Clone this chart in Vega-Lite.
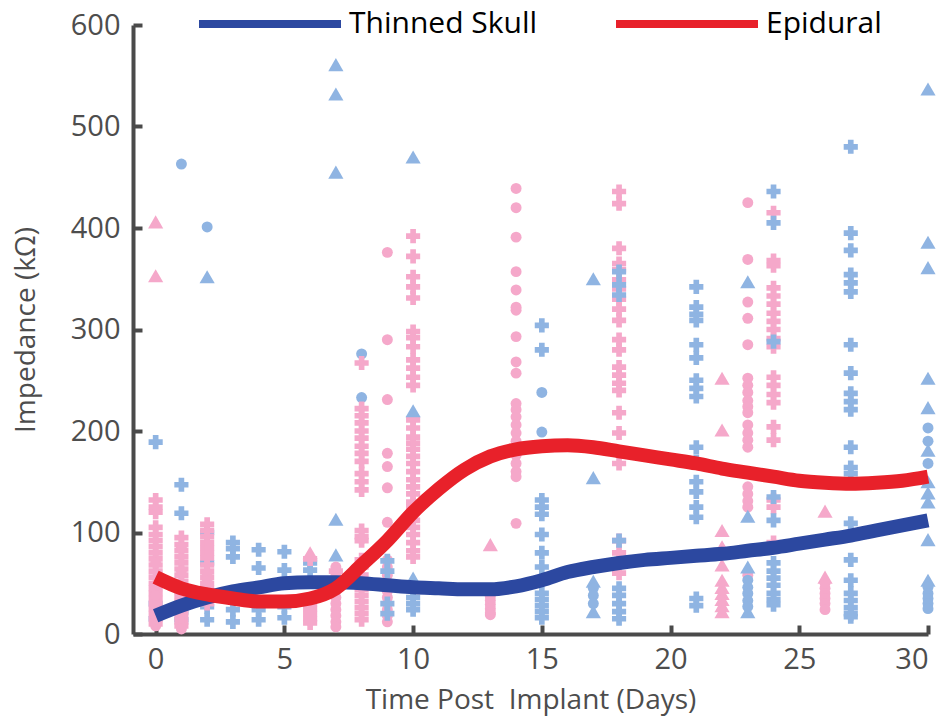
{
  "$schema": "https://vega.github.io/schema/vega-lite/v6.json",
  "autosize": "none",
  "width": 795,
  "height": 609,
  "padding": {"left": 133, "top": 25, "right": 22, "bottom": 90},
  "config": {
    "view": {"stroke": null},
    "font": "Open Sans",
    "axis": {
      "grid": false,
      "domainColor": "#4a4a4a",
      "domainWidth": 4,
      "tickColor": "#4a4a4a",
      "tickWidth": 4,
      "tickSize": -9,
      "labelFontSize": 29,
      "labelColor": "#4d4d4d",
      "titleFontSize": 28,
      "titleFontWeight": "normal",
      "titleColor": "#4d4d4d"
    }
  },
  "datasets": {
    "pts": [
      {"d":0,"v":189,"g":"T","s":"cross"},{"d":0,"v":15,"g":"T","s":"cross"},{"d":0,"v":22,"g":"T","s":"circle"},{"d":0,"v":30,"g":"T","s":"cross"},
      {"d":0,"v":406,"g":"E","s":"triangle"},{"d":0,"v":353,"g":"E","s":"triangle"},
      {"d":0,"v":132,"g":"E","s":"cross"},{"d":0,"v":125,"g":"E","s":"cross"},{"d":0,"v":120,"g":"E","s":"cross"},{"d":0,"v":105,"g":"E","s":"cross"},{"d":0,"v":98,"g":"E","s":"cross"},{"d":0,"v":92,"g":"E","s":"cross"},{"d":0,"v":86,"g":"E","s":"cross"},{"d":0,"v":80,"g":"E","s":"cross"},{"d":0,"v":74,"g":"E","s":"cross"},{"d":0,"v":68,"g":"E","s":"cross"},{"d":0,"v":62,"g":"E","s":"cross"},{"d":0,"v":56,"g":"E","s":"cross"},{"d":0,"v":50,"g":"E","s":"cross"},{"d":0,"v":45,"g":"E","s":"cross"},{"d":0,"v":40,"g":"E","s":"cross"},{"d":0,"v":35,"g":"E","s":"cross"},{"d":0,"v":30,"g":"E","s":"cross"},{"d":0,"v":25,"g":"E","s":"cross"},{"d":0,"v":20,"g":"E","s":"cross"},{"d":0,"v":15,"g":"E","s":"cross"},{"d":0,"v":10,"g":"E","s":"cross"},
      {"d":0,"v":70,"g":"E","s":"circle"},{"d":0,"v":48,"g":"E","s":"circle"},{"d":0,"v":38,"g":"E","s":"circle"},{"d":0,"v":28,"g":"E","s":"circle"},{"d":0,"v":18,"g":"E","s":"circle"},{"d":0,"v":8,"g":"E","s":"circle"},
      {"d":1,"v":463,"g":"T","s":"circle"},{"d":1,"v":147,"g":"T","s":"cross"},{"d":1,"v":119,"g":"T","s":"cross"},{"d":1,"v":14,"g":"T","s":"cross"},{"d":1,"v":22,"g":"T","s":"cross"},
      {"d":1,"v":95,"g":"E","s":"cross"},{"d":1,"v":88,"g":"E","s":"cross"},{"d":1,"v":82,"g":"E","s":"cross"},{"d":1,"v":76,"g":"E","s":"cross"},{"d":1,"v":70,"g":"E","s":"cross"},{"d":1,"v":64,"g":"E","s":"cross"},{"d":1,"v":58,"g":"E","s":"cross"},{"d":1,"v":52,"g":"E","s":"cross"},{"d":1,"v":47,"g":"E","s":"cross"},{"d":1,"v":42,"g":"E","s":"cross"},{"d":1,"v":37,"g":"E","s":"cross"},{"d":1,"v":32,"g":"E","s":"cross"},{"d":1,"v":27,"g":"E","s":"cross"},{"d":1,"v":22,"g":"E","s":"cross"},{"d":1,"v":17,"g":"E","s":"cross"},{"d":1,"v":12,"g":"E","s":"cross"},{"d":1,"v":8,"g":"E","s":"cross"},
      {"d":1,"v":85,"g":"E","s":"circle"},{"d":1,"v":62,"g":"E","s":"circle"},{"d":1,"v":40,"g":"E","s":"circle"},{"d":1,"v":25,"g":"E","s":"circle"},{"d":1,"v":5,"g":"E","s":"circle"},
      {"d":2,"v":401,"g":"T","s":"circle"},{"d":2,"v":352,"g":"T","s":"triangle"},{"d":2,"v":100,"g":"T","s":"cross"},{"d":2,"v":70,"g":"T","s":"cross"},{"d":2,"v":27,"g":"T","s":"cross"},{"d":2,"v":14,"g":"T","s":"cross"},
      {"d":2,"v":108,"g":"E","s":"cross"},{"d":2,"v":102,"g":"E","s":"cross"},{"d":2,"v":96,"g":"E","s":"cross"},{"d":2,"v":90,"g":"E","s":"cross"},{"d":2,"v":85,"g":"E","s":"cross"},{"d":2,"v":80,"g":"E","s":"cross"},{"d":2,"v":75,"g":"E","s":"cross"},{"d":2,"v":68,"g":"E","s":"cross"},{"d":2,"v":62,"g":"E","s":"cross"},{"d":2,"v":56,"g":"E","s":"cross"},{"d":2,"v":50,"g":"E","s":"cross"},{"d":2,"v":45,"g":"E","s":"cross"},{"d":2,"v":40,"g":"E","s":"cross"},{"d":2,"v":35,"g":"E","s":"cross"},{"d":2,"v":30,"g":"E","s":"cross"},
      {"d":2,"v":60,"g":"E","s":"circle"},{"d":2,"v":52,"g":"E","s":"circle"},{"d":2,"v":44,"g":"E","s":"circle"},
      {"d":3,"v":90,"g":"T","s":"cross"},{"d":3,"v":84,"g":"T","s":"cross"},{"d":3,"v":76,"g":"T","s":"cross"},{"d":3,"v":24,"g":"T","s":"cross"},{"d":3,"v":12,"g":"T","s":"cross"},
      {"d":4,"v":83,"g":"T","s":"cross"},{"d":4,"v":65,"g":"T","s":"cross"},{"d":4,"v":24,"g":"T","s":"cross"},{"d":4,"v":14,"g":"T","s":"cross"},
      {"d":5,"v":81,"g":"T","s":"cross"},{"d":5,"v":63,"g":"T","s":"cross"},{"d":5,"v":27,"g":"T","s":"cross"},{"d":5,"v":16,"g":"T","s":"cross"},
      {"d":6,"v":70,"g":"T","s":"cross"},{"d":6,"v":63,"g":"T","s":"cross"},
      {"d":6,"v":80,"g":"E","s":"triangle"},{"d":6,"v":74,"g":"E","s":"cross"},{"d":6,"v":30,"g":"E","s":"cross"},{"d":6,"v":25,"g":"E","s":"cross"},{"d":6,"v":20,"g":"E","s":"cross"},{"d":6,"v":15,"g":"E","s":"cross"},{"d":6,"v":11,"g":"E","s":"cross"},
      {"d":7,"v":561,"g":"T","s":"triangle"},{"d":7,"v":532,"g":"T","s":"triangle"},{"d":7,"v":455,"g":"T","s":"triangle"},{"d":7,"v":113,"g":"T","s":"triangle"},{"d":7,"v":78,"g":"T","s":"triangle"},
      {"d":7,"v":66,"g":"E","s":"circle"},{"d":7,"v":58,"g":"E","s":"circle"},{"d":7,"v":50,"g":"E","s":"circle"},{"d":7,"v":43,"g":"E","s":"circle"},{"d":7,"v":36,"g":"E","s":"circle"},{"d":7,"v":30,"g":"E","s":"circle"},{"d":7,"v":24,"g":"E","s":"circle"},{"d":7,"v":18,"g":"E","s":"circle"},{"d":7,"v":12,"g":"E","s":"circle"},{"d":7,"v":7,"g":"E","s":"circle"},{"d":7,"v":62,"g":"E","s":"cross"},{"d":7,"v":46,"g":"E","s":"cross"},
      {"d":8,"v":276,"g":"T","s":"circle"},{"d":8,"v":233,"g":"T","s":"circle"},
      {"d":8,"v":267,"g":"E","s":"cross"},{"d":8,"v":222,"g":"E","s":"cross"},{"d":8,"v":215,"g":"E","s":"cross"},{"d":8,"v":208,"g":"E","s":"cross"},{"d":8,"v":200,"g":"E","s":"cross"},{"d":8,"v":193,"g":"E","s":"cross"},{"d":8,"v":185,"g":"E","s":"cross"},{"d":8,"v":178,"g":"E","s":"cross"},{"d":8,"v":170,"g":"E","s":"cross"},{"d":8,"v":158,"g":"E","s":"cross"},{"d":8,"v":150,"g":"E","s":"cross"},{"d":8,"v":142,"g":"E","s":"cross"},{"d":8,"v":102,"g":"E","s":"cross"},{"d":8,"v":96,"g":"E","s":"cross"},{"d":8,"v":92,"g":"E","s":"cross"},{"d":8,"v":73,"g":"E","s":"cross"},{"d":8,"v":66,"g":"E","s":"cross"},{"d":8,"v":58,"g":"E","s":"cross"},{"d":8,"v":50,"g":"E","s":"cross"},{"d":8,"v":44,"g":"E","s":"cross"},{"d":8,"v":38,"g":"E","s":"cross"},{"d":8,"v":32,"g":"E","s":"cross"},{"d":8,"v":26,"g":"E","s":"cross"},{"d":8,"v":20,"g":"E","s":"cross"},{"d":8,"v":14,"g":"E","s":"cross"},
      {"d":9,"v":376,"g":"E","s":"circle"},{"d":9,"v":290,"g":"E","s":"circle"},{"d":9,"v":231,"g":"E","s":"circle"},{"d":9,"v":178,"g":"E","s":"circle"},{"d":9,"v":165,"g":"E","s":"circle"},{"d":9,"v":144,"g":"E","s":"circle"},{"d":9,"v":110,"g":"E","s":"circle"},{"d":9,"v":73,"g":"E","s":"circle"},{"d":9,"v":66,"g":"E","s":"circle"},{"d":9,"v":58,"g":"E","s":"circle"},{"d":9,"v":50,"g":"E","s":"circle"},{"d":9,"v":42,"g":"E","s":"circle"},{"d":9,"v":36,"g":"E","s":"circle"},{"d":9,"v":30,"g":"E","s":"circle"},{"d":9,"v":24,"g":"E","s":"circle"},{"d":9,"v":18,"g":"E","s":"circle"},{"d":9,"v":12,"g":"E","s":"circle"},
      {"d":9,"v":72,"g":"T","s":"cross"},{"d":9,"v":62,"g":"T","s":"cross"},{"d":9,"v":30,"g":"T","s":"cross"},{"d":9,"v":20,"g":"T","s":"cross"},
      {"d":10,"v":392,"g":"E","s":"cross"},{"d":10,"v":372,"g":"E","s":"cross"},{"d":10,"v":352,"g":"E","s":"cross"},{"d":10,"v":342,"g":"E","s":"cross"},{"d":10,"v":331,"g":"E","s":"cross"},{"d":10,"v":298,"g":"E","s":"cross"},{"d":10,"v":292,"g":"E","s":"cross"},{"d":10,"v":283,"g":"E","s":"cross"},{"d":10,"v":270,"g":"E","s":"cross"},{"d":10,"v":262,"g":"E","s":"cross"},{"d":10,"v":253,"g":"E","s":"cross"},{"d":10,"v":245,"g":"E","s":"cross"},{"d":10,"v":211,"g":"E","s":"cross"},{"d":10,"v":203,"g":"E","s":"cross"},{"d":10,"v":194,"g":"E","s":"cross"},{"d":10,"v":188,"g":"E","s":"cross"},{"d":10,"v":182,"g":"E","s":"cross"},{"d":10,"v":175,"g":"E","s":"cross"},{"d":10,"v":168,"g":"E","s":"cross"},{"d":10,"v":160,"g":"E","s":"cross"},{"d":10,"v":152,"g":"E","s":"cross"},{"d":10,"v":145,"g":"E","s":"cross"},{"d":10,"v":138,"g":"E","s":"cross"},{"d":10,"v":130,"g":"E","s":"cross"},{"d":10,"v":125,"g":"E","s":"cross"},{"d":10,"v":112,"g":"E","s":"cross"},{"d":10,"v":105,"g":"E","s":"cross"},{"d":10,"v":98,"g":"E","s":"cross"},{"d":10,"v":90,"g":"E","s":"cross"},{"d":10,"v":82,"g":"E","s":"cross"},{"d":10,"v":76,"g":"E","s":"cross"},
      {"d":10,"v":470,"g":"T","s":"triangle"},{"d":10,"v":220,"g":"T","s":"triangle"},{"d":10,"v":55,"g":"T","s":"triangle"},{"d":10,"v":43,"g":"T","s":"cross"},{"d":10,"v":36,"g":"T","s":"cross"},{"d":10,"v":30,"g":"T","s":"cross"},{"d":10,"v":24,"g":"T","s":"cross"},
      {"d":13,"v":88,"g":"E","s":"triangle"},{"d":13,"v":37,"g":"E","s":"circle"},{"d":13,"v":33,"g":"E","s":"circle"},{"d":13,"v":29,"g":"E","s":"circle"},{"d":13,"v":25,"g":"E","s":"circle"},{"d":13,"v":21,"g":"E","s":"circle"},{"d":13,"v":19,"g":"E","s":"circle"},
      {"d":14,"v":439,"g":"E","s":"circle"},{"d":14,"v":420,"g":"E","s":"circle"},{"d":14,"v":391,"g":"E","s":"circle"},{"d":14,"v":357,"g":"E","s":"circle"},{"d":14,"v":339,"g":"E","s":"circle"},{"d":14,"v":322,"g":"E","s":"circle"},{"d":14,"v":319,"g":"E","s":"circle"},{"d":14,"v":293,"g":"E","s":"circle"},{"d":14,"v":268,"g":"E","s":"circle"},{"d":14,"v":257,"g":"E","s":"circle"},{"d":14,"v":227,"g":"E","s":"circle"},{"d":14,"v":221,"g":"E","s":"circle"},{"d":14,"v":214,"g":"E","s":"circle"},{"d":14,"v":206,"g":"E","s":"circle"},{"d":14,"v":198,"g":"E","s":"circle"},{"d":14,"v":190,"g":"E","s":"circle"},{"d":14,"v":183,"g":"E","s":"circle"},{"d":14,"v":176,"g":"E","s":"circle"},{"d":14,"v":168,"g":"E","s":"circle"},{"d":14,"v":160,"g":"E","s":"circle"},{"d":14,"v":155,"g":"E","s":"circle"},{"d":14,"v":109,"g":"E","s":"circle"},
      {"d":15,"v":304,"g":"T","s":"cross"},{"d":15,"v":280,"g":"T","s":"cross"},{"d":15,"v":132,"g":"T","s":"cross"},{"d":15,"v":125,"g":"T","s":"cross"},{"d":15,"v":118,"g":"T","s":"cross"},{"d":15,"v":98,"g":"T","s":"cross"},{"d":15,"v":80,"g":"T","s":"cross"},{"d":15,"v":66,"g":"T","s":"cross"},{"d":15,"v":40,"g":"T","s":"cross"},{"d":15,"v":34,"g":"T","s":"cross"},{"d":15,"v":28,"g":"T","s":"cross"},{"d":15,"v":22,"g":"T","s":"cross"},{"d":15,"v":16,"g":"T","s":"cross"},{"d":15,"v":238,"g":"T","s":"circle"},{"d":15,"v":199,"g":"T","s":"circle"},
      {"d":17,"v":350,"g":"T","s":"triangle"},{"d":17,"v":154,"g":"T","s":"triangle"},{"d":17,"v":52,"g":"T","s":"triangle"},{"d":17,"v":22,"g":"T","s":"triangle"},{"d":17,"v":45,"g":"T","s":"circle"},{"d":17,"v":38,"g":"T","s":"circle"},{"d":17,"v":30,"g":"T","s":"circle"},
      {"d":18,"v":436,"g":"E","s":"cross"},{"d":18,"v":424,"g":"E","s":"cross"},{"d":18,"v":380,"g":"E","s":"cross"},{"d":18,"v":365,"g":"E","s":"cross"},{"d":18,"v":359,"g":"E","s":"cross"},{"d":18,"v":349,"g":"E","s":"cross"},{"d":18,"v":340,"g":"E","s":"cross"},{"d":18,"v":330,"g":"E","s":"cross"},{"d":18,"v":320,"g":"E","s":"cross"},{"d":18,"v":309,"g":"E","s":"cross"},{"d":18,"v":290,"g":"E","s":"cross"},{"d":18,"v":280,"g":"E","s":"cross"},{"d":18,"v":263,"g":"E","s":"cross"},{"d":18,"v":255,"g":"E","s":"cross"},{"d":18,"v":247,"g":"E","s":"cross"},{"d":18,"v":240,"g":"E","s":"cross"},{"d":18,"v":218,"g":"E","s":"cross"},{"d":18,"v":198,"g":"E","s":"cross"},{"d":18,"v":168,"g":"E","s":"cross"},{"d":18,"v":92,"g":"E","s":"cross"},{"d":18,"v":80,"g":"E","s":"cross"},{"d":18,"v":70,"g":"E","s":"cross"},{"d":18,"v":60,"g":"E","s":"cross"},
      {"d":18,"v":357,"g":"T","s":"cross"},{"d":18,"v":344,"g":"T","s":"cross"},{"d":18,"v":334,"g":"T","s":"cross"},{"d":18,"v":92,"g":"T","s":"cross"},{"d":18,"v":45,"g":"T","s":"cross"},{"d":18,"v":38,"g":"T","s":"cross"},{"d":18,"v":30,"g":"T","s":"cross"},{"d":18,"v":22,"g":"T","s":"cross"},{"d":18,"v":15,"g":"T","s":"cross"},
      {"d":21,"v":342,"g":"T","s":"cross"},{"d":21,"v":322,"g":"T","s":"cross"},{"d":21,"v":315,"g":"T","s":"cross"},{"d":21,"v":309,"g":"T","s":"cross"},{"d":21,"v":285,"g":"T","s":"cross"},{"d":21,"v":272,"g":"T","s":"cross"},{"d":21,"v":250,"g":"T","s":"cross"},{"d":21,"v":242,"g":"T","s":"cross"},{"d":21,"v":234,"g":"T","s":"cross"},{"d":21,"v":184,"g":"T","s":"cross"},{"d":21,"v":170,"g":"T","s":"cross"},{"d":21,"v":150,"g":"T","s":"cross"},{"d":21,"v":140,"g":"T","s":"cross"},{"d":21,"v":125,"g":"T","s":"cross"},{"d":21,"v":115,"g":"T","s":"cross"},{"d":21,"v":35,"g":"T","s":"cross"},{"d":21,"v":28,"g":"T","s":"cross"},
      {"d":22,"v":252,"g":"E","s":"triangle"},{"d":22,"v":201,"g":"E","s":"triangle"},{"d":22,"v":102,"g":"E","s":"triangle"},{"d":22,"v":86,"g":"E","s":"triangle"},{"d":22,"v":68,"g":"E","s":"triangle"},{"d":22,"v":53,"g":"E","s":"triangle"},{"d":22,"v":46,"g":"E","s":"triangle"},{"d":22,"v":40,"g":"E","s":"triangle"},{"d":22,"v":34,"g":"E","s":"triangle"},{"d":22,"v":28,"g":"E","s":"triangle"},{"d":22,"v":22,"g":"E","s":"triangle"},
      {"d":23,"v":425,"g":"E","s":"circle"},{"d":23,"v":369,"g":"E","s":"circle"},{"d":23,"v":327,"g":"E","s":"circle"},{"d":23,"v":311,"g":"E","s":"circle"},{"d":23,"v":285,"g":"E","s":"circle"},{"d":23,"v":252,"g":"E","s":"circle"},{"d":23,"v":245,"g":"E","s":"circle"},{"d":23,"v":238,"g":"E","s":"circle"},{"d":23,"v":230,"g":"E","s":"circle"},{"d":23,"v":224,"g":"E","s":"circle"},{"d":23,"v":218,"g":"E","s":"circle"},{"d":23,"v":206,"g":"E","s":"circle"},{"d":23,"v":198,"g":"E","s":"circle"},{"d":23,"v":191,"g":"E","s":"circle"},{"d":23,"v":184,"g":"E","s":"circle"},{"d":23,"v":145,"g":"E","s":"circle"},{"d":23,"v":138,"g":"E","s":"circle"},{"d":23,"v":131,"g":"E","s":"circle"},{"d":23,"v":125,"g":"E","s":"circle"},{"d":23,"v":58,"g":"E","s":"circle"},
      {"d":23,"v":347,"g":"T","s":"triangle"},{"d":23,"v":116,"g":"T","s":"triangle"},{"d":23,"v":66,"g":"T","s":"triangle"},{"d":23,"v":22,"g":"T","s":"triangle"},{"d":23,"v":53,"g":"T","s":"circle"},{"d":23,"v":46,"g":"T","s":"circle"},{"d":23,"v":40,"g":"T","s":"circle"},{"d":23,"v":33,"g":"T","s":"circle"},{"d":23,"v":27,"g":"T","s":"circle"},
      {"d":24,"v":415,"g":"E","s":"cross"},{"d":24,"v":368,"g":"E","s":"cross"},{"d":24,"v":363,"g":"E","s":"cross"},{"d":24,"v":341,"g":"E","s":"cross"},{"d":24,"v":333,"g":"E","s":"cross"},{"d":24,"v":325,"g":"E","s":"cross"},{"d":24,"v":316,"g":"E","s":"cross"},{"d":24,"v":308,"g":"E","s":"cross"},{"d":24,"v":300,"g":"E","s":"cross"},{"d":24,"v":291,"g":"E","s":"cross"},{"d":24,"v":283,"g":"E","s":"cross"},{"d":24,"v":253,"g":"E","s":"cross"},{"d":24,"v":245,"g":"E","s":"cross"},{"d":24,"v":236,"g":"E","s":"cross"},{"d":24,"v":228,"g":"E","s":"cross"},{"d":24,"v":204,"g":"E","s":"cross"},{"d":24,"v":191,"g":"E","s":"cross"},{"d":24,"v":132,"g":"E","s":"cross"},{"d":24,"v":125,"g":"E","s":"cross"},{"d":24,"v":90,"g":"E","s":"cross"},
      {"d":24,"v":436,"g":"T","s":"cross"},{"d":24,"v":405,"g":"T","s":"cross"},{"d":24,"v":288,"g":"T","s":"cross"},{"d":24,"v":135,"g":"T","s":"cross"},{"d":24,"v":112,"g":"T","s":"cross"},{"d":24,"v":70,"g":"T","s":"cross"},{"d":24,"v":62,"g":"T","s":"cross"},{"d":24,"v":55,"g":"T","s":"cross"},{"d":24,"v":48,"g":"T","s":"cross"},{"d":24,"v":40,"g":"T","s":"cross"},{"d":24,"v":34,"g":"T","s":"cross"},{"d":24,"v":29,"g":"T","s":"cross"},
      {"d":26,"v":121,"g":"E","s":"triangle"},{"d":26,"v":56,"g":"E","s":"triangle"},{"d":26,"v":50,"g":"E","s":"circle"},{"d":26,"v":45,"g":"E","s":"circle"},{"d":26,"v":40,"g":"E","s":"circle"},{"d":26,"v":35,"g":"E","s":"circle"},{"d":26,"v":30,"g":"E","s":"circle"},{"d":26,"v":24,"g":"E","s":"circle"},
      {"d":27,"v":480,"g":"T","s":"cross"},{"d":27,"v":395,"g":"T","s":"cross"},{"d":27,"v":378,"g":"T","s":"cross"},{"d":27,"v":354,"g":"T","s":"cross"},{"d":27,"v":346,"g":"T","s":"cross"},{"d":27,"v":337,"g":"T","s":"cross"},{"d":27,"v":285,"g":"T","s":"cross"},{"d":27,"v":257,"g":"T","s":"cross"},{"d":27,"v":237,"g":"T","s":"cross"},{"d":27,"v":229,"g":"T","s":"cross"},{"d":27,"v":221,"g":"T","s":"cross"},{"d":27,"v":184,"g":"T","s":"cross"},{"d":27,"v":164,"g":"T","s":"cross"},{"d":27,"v":158,"g":"T","s":"cross"},{"d":27,"v":109,"g":"T","s":"cross"},{"d":27,"v":99,"g":"T","s":"cross"},{"d":27,"v":73,"g":"T","s":"cross"},{"d":27,"v":53,"g":"T","s":"cross"},{"d":27,"v":40,"g":"T","s":"cross"},{"d":27,"v":33,"g":"T","s":"cross"},{"d":27,"v":26,"g":"T","s":"cross"},{"d":27,"v":20,"g":"T","s":"cross"},{"d":27,"v":17,"g":"T","s":"cross"},
      {"d":30,"v":537,"g":"T","s":"triangle"},{"d":30,"v":386,"g":"T","s":"triangle"},{"d":30,"v":361,"g":"T","s":"triangle"},{"d":30,"v":252,"g":"T","s":"triangle"},{"d":30,"v":223,"g":"T","s":"triangle"},{"d":30,"v":181,"g":"T","s":"triangle"},{"d":30,"v":150,"g":"T","s":"triangle"},{"d":30,"v":139,"g":"T","s":"triangle"},{"d":30,"v":130,"g":"T","s":"triangle"},{"d":30,"v":93,"g":"T","s":"triangle"},{"d":30,"v":53,"g":"T","s":"triangle"},
      {"d":30,"v":203,"g":"T","s":"circle"},{"d":30,"v":190,"g":"T","s":"circle"},{"d":30,"v":168,"g":"T","s":"circle"},{"d":30,"v":46,"g":"T","s":"circle"},{"d":30,"v":40,"g":"T","s":"circle"},{"d":30,"v":35,"g":"T","s":"circle"},{"d":30,"v":30,"g":"T","s":"circle"},{"d":30,"v":25,"g":"T","s":"circle"}
    ],
    "fits": [
      {"d":0,"v":18,"g":"Thinned Skull"},{"d":1,"v":28,"g":"Thinned Skull"},{"d":2,"v":36,"g":"Thinned Skull"},{"d":3,"v":42,"g":"Thinned Skull"},{"d":4,"v":46,"g":"Thinned Skull"},{"d":5,"v":50,"g":"Thinned Skull"},{"d":6,"v":51,"g":"Thinned Skull"},{"d":7,"v":51,"g":"Thinned Skull"},{"d":8,"v":50,"g":"Thinned Skull"},{"d":9,"v":48,"g":"Thinned Skull"},{"d":10,"v":46,"g":"Thinned Skull"},{"d":11,"v":45,"g":"Thinned Skull"},{"d":12,"v":44,"g":"Thinned Skull"},{"d":13,"v":44,"g":"Thinned Skull"},{"d":14,"v":47,"g":"Thinned Skull"},{"d":15,"v":53,"g":"Thinned Skull"},{"d":16,"v":61,"g":"Thinned Skull"},{"d":17,"v":66,"g":"Thinned Skull"},{"d":18,"v":70,"g":"Thinned Skull"},{"d":19,"v":73,"g":"Thinned Skull"},{"d":20,"v":75,"g":"Thinned Skull"},{"d":21,"v":77,"g":"Thinned Skull"},{"d":22,"v":79,"g":"Thinned Skull"},{"d":23,"v":82,"g":"Thinned Skull"},{"d":24,"v":85,"g":"Thinned Skull"},{"d":25,"v":89,"g":"Thinned Skull"},{"d":26,"v":93,"g":"Thinned Skull"},{"d":27,"v":97,"g":"Thinned Skull"},{"d":28,"v":102,"g":"Thinned Skull"},{"d":29,"v":107,"g":"Thinned Skull"},{"d":30,"v":112,"g":"Thinned Skull"},
      {"d":0,"v":56,"g":"Epidural"},{"d":1,"v":45,"g":"Epidural"},{"d":2,"v":39,"g":"Epidural"},{"d":3,"v":35,"g":"Epidural"},{"d":4,"v":32,"g":"Epidural"},{"d":5,"v":32,"g":"Epidural"},{"d":6,"v":35,"g":"Epidural"},{"d":7,"v":45,"g":"Epidural"},{"d":8,"v":68,"g":"Epidural"},{"d":9,"v":92,"g":"Epidural"},{"d":10,"v":120,"g":"Epidural"},{"d":11,"v":143,"g":"Epidural"},{"d":12,"v":162,"g":"Epidural"},{"d":13,"v":175,"g":"Epidural"},{"d":14,"v":182,"g":"Epidural"},{"d":15,"v":185,"g":"Epidural"},{"d":16,"v":186,"g":"Epidural"},{"d":17,"v":184,"g":"Epidural"},{"d":18,"v":180,"g":"Epidural"},{"d":19,"v":176,"g":"Epidural"},{"d":20,"v":172,"g":"Epidural"},{"d":21,"v":168,"g":"Epidural"},{"d":22,"v":163,"g":"Epidural"},{"d":23,"v":159,"g":"Epidural"},{"d":24,"v":155,"g":"Epidural"},{"d":25,"v":151,"g":"Epidural"},{"d":26,"v":149,"g":"Epidural"},{"d":27,"v":148,"g":"Epidural"},{"d":28,"v":149,"g":"Epidural"},{"d":29,"v":151,"g":"Epidural"},{"d":30,"v":155,"g":"Epidural"}
    ]
  },
  "encoding": {
    "x": {
      "field": "d", "type": "quantitative",
      "scale": {"domain": [-0.88, 30], "nice": false, "zero": false},
      "axis": {"values": [0, 5, 10, 15, 20, 25, 30], "title": "Time Post\u00a0 Implant (Days)", "labelPadding": 20, "titlePadding": 12}
    },
    "y": {
      "field": "v", "type": "quantitative",
      "scale": {"domain": [0, 600], "nice": false},
      "axis": {"values": [0, 100, 200, 300, 400, 500, 600], "title": "Impedance (kΩ)", "labelPadding": 22, "titlePadding": 30}
    }
  },
  "layer": [
    {
      "data": {"name": "pts"},
      "mark": {"type": "point", "filled": true, "opacity": 1},
      "encoding": {
        "fill": {"field": "g", "type": "nominal", "scale": {"domain": ["T", "E"], "range": ["#8fb4e2", "#f5a8ca"]}, "legend": null},
        "shape": {"field": "s", "type": "nominal", "scale": {"domain": ["cross", "circle", "triangle"], "range": ["cross", "circle", "triangle-up"]}, "legend": null},
        "size": {"field": "s", "type": "nominal", "scale": {"type": "ordinal", "domain": ["cross", "circle", "triangle"], "range": [200, 120, 230]}, "legend": null}
      }
    },
    {
      "data": {"name": "fits"},
      "mark": {"type": "line", "strokeWidth": 14, "interpolate": "monotone", "strokeCap": "butt"},
      "encoding": {
        "stroke": {
          "field": "g", "type": "nominal",
          "scale": {"domain": ["Thinned Skull", "Epidural"], "range": ["#2c48a0", "#e8212a"]},
          "legend": {
            "orient": "none", "direction": "horizontal", "legendX": 62, "legendY": -76,
            "title": null, "padding": 0,
            "symbolType": "stroke", "symbolSize": 20164, "symbolStrokeWidth": 8,
            "labelFontSize": 30, "labelColor": "#000000", "labelOffset": 4, "columnPadding": 62,
            "labelLimit": 400
          }
        }
      }
    }
  ]
}
